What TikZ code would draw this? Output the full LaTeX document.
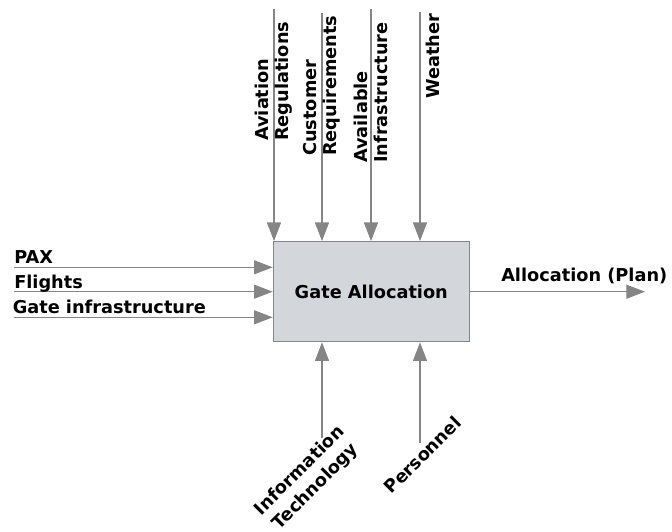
\documentclass[tikz,border=0pt]{standalone}
\usepackage{fontspec}
\setmainfont{DejaVu Sans}
\usetikzlibrary{arrows.meta}
\definecolor{flowgray}{HTML}{858585}
\definecolor{boxfill}{HTML}{D3D7DB}
\tikzset{
  flow/.style={draw=flowgray,line width=0.9pt,-{Triangle[length=14pt,width=10.5pt]},flowgray},
  lbl/.style={font=\fontsize{13.3}{15}\selectfont\bfseries,inner sep=0pt,align=left},
  activity/.style={draw=flowgray,fill=boxfill,line width=0.9pt,minimum width=147pt,minimum height=75pt,
    font=\fontsize{13.3}{15}\selectfont\bfseries}
}
\begin{document}
\begin{tikzpicture}[x=0.75pt,y=-0.75pt]
    \useasboundingbox (0,0) rectangle (672,532);
    \node[activity] (ga) at (371.3,291.7) {Gate Allocation};

    \coordinate (avtop) at (274,9);
    \coordinate (cutop) at (322,13);
    \coordinate (intop) at (371,9);
    \coordinate (wetop) at (420,12);
    \draw[flow] (avtop) -- (avtop |- ga.north);
    \draw[flow] (cutop) -- (cutop |- ga.north);
    \draw[flow] (intop) -- (intop |- ga.north);
    \draw[flow] (wetop) -- (wetop |- ga.north);
    \node[lbl,rotate=90,anchor=west] (avlab) at (274,141) {Aviation\\Regulations};
    \node[lbl,rotate=90,anchor=west] (culab) at (322,156) {Customer\\Requirements};
    \node[lbl,rotate=90,anchor=west] (inlab) at (371,163) {Available\\Infrastructure};
    \node[lbl,rotate=90,anchor=west] (welab) at (432.5,99) {Weather};

    \coordinate (paxin) at (14,267.3);
    \coordinate (flin) at (14,291.7);
    \coordinate (gtin) at (14,317.3);
    \draw[flow] (paxin) -- (paxin -| ga.west);
    \draw[flow] (flin) -- (flin -| ga.west);
    \draw[flow] (gtin) -- (gtin -| ga.west);
    \node[lbl,anchor=base west] (paxlab) at (14,263.3) {PAX};
    \node[lbl,anchor=base west] (fllab) at (14,288.3) {Flights};
    \node[lbl,anchor=base west] (gtlab) at (12.5,313.3) {Gate infrastructure};

    \coordinate (planout) at (645,291.7);
    \draw[flow] (ga.east) -- (planout);
    \node[lbl,anchor=base west] (planlab) at (501,281.7) {Allocation (Plan)};

    \coordinate (itbot) at (322,438);
    \coordinate (pebot) at (420,443);
    \draw[flow] (itbot) -- (itbot |- ga.south);
    \draw[flow] (pebot) -- (pebot |- ga.south);
    \node[lbl,rotate=45,align=center,font=\fontsize{13.3}{17}\selectfont\bfseries] (itlab) at (308,479) {Information\\Technology};
    \node[lbl,rotate=45] (pelab) at (422.5,455) {Personnel};
\end{tikzpicture}
\end{document}
